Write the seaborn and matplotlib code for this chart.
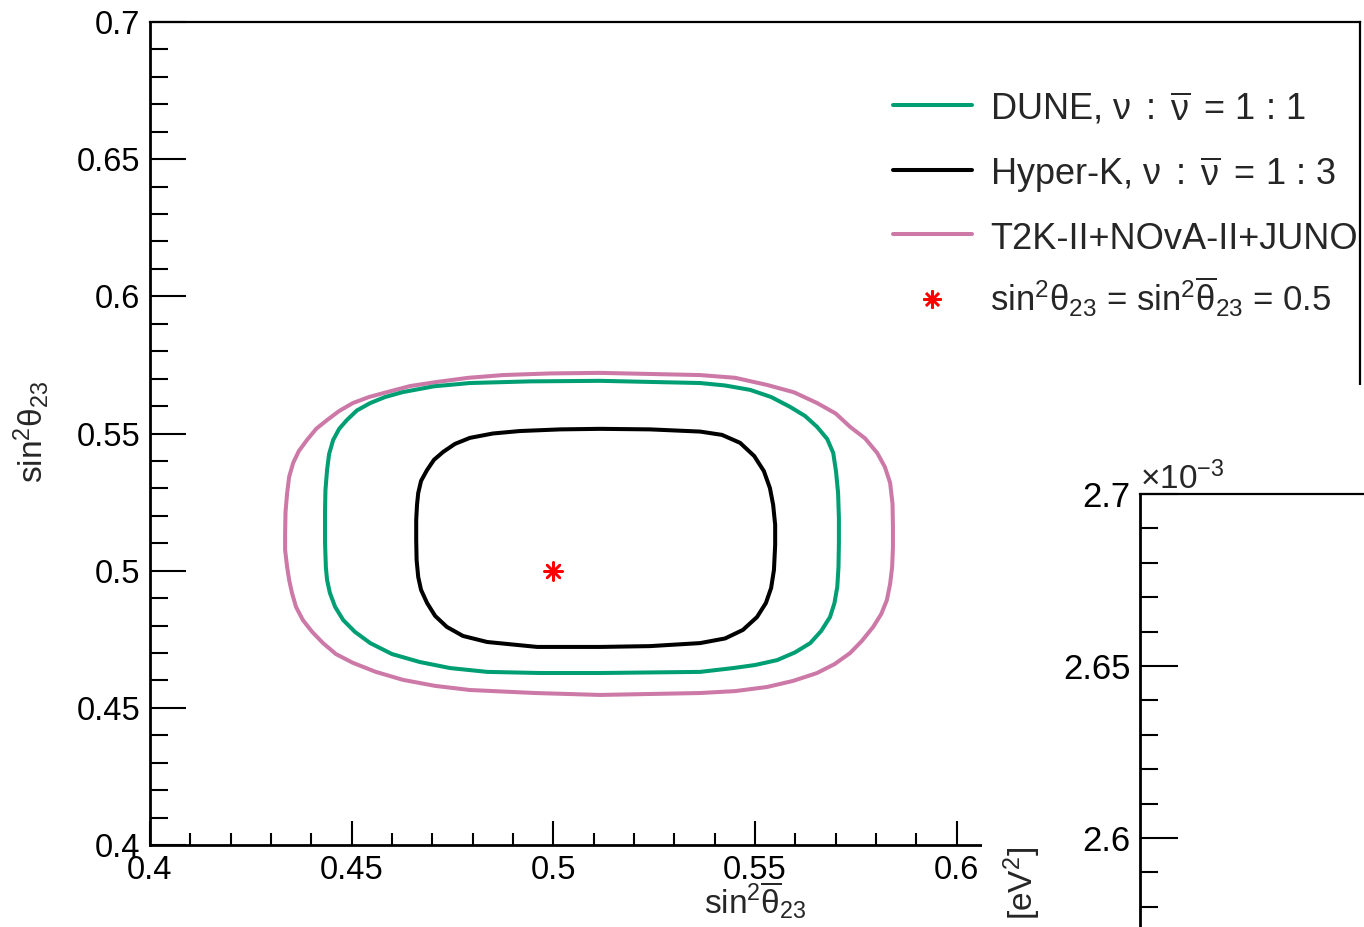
import matplotlib
matplotlib.use("Agg")
import matplotlib.pyplot as plt
from matplotlib.lines import Line2D
from matplotlib.patches import Rectangle
from matplotlib.ticker import MultipleLocator, FuncFormatter
import pandas as pd
import seaborn as sns

# 90% C.L. contours in the (sin^2 theta23-bar, sin^2 theta23) plane
t2k_x = [0.5116, 0.5364, 0.5451, 0.5530, 0.5597, 0.5654, 0.5700, 0.5736,
         0.5773, 0.5803, 0.5822, 0.5835, 0.5841, 0.5842, 0.5842, 0.5840,
         0.5835, 0.5827, 0.5813, 0.5793, 0.5765, 0.5736, 0.5698, 0.5654,
         0.5594, 0.5530, 0.5451, 0.5364, 0.5116, 0.4955, 0.4793, 0.4707,
         0.4627, 0.4560, 0.4503, 0.4461, 0.4429, 0.4402, 0.4379, 0.4362,
         0.4352, 0.4345, 0.4340, 0.4335, 0.4335, 0.4336, 0.4340, 0.4345,
         0.4355, 0.4369, 0.4389, 0.4412, 0.4439, 0.4469, 0.4503, 0.4543,
         0.4588, 0.4645, 0.4712, 0.4789, 0.4875, 0.4992]
t2k_y = [0.5721, 0.5713, 0.5703, 0.5677, 0.5650, 0.5611, 0.5573, 0.5524,
         0.5482, 0.5429, 0.5378, 0.5320, 0.5243, 0.5159, 0.5086, 0.5013,
         0.4952, 0.4893, 0.4842, 0.4795, 0.4744, 0.4700, 0.4660, 0.4627,
         0.4598, 0.4576, 0.4561, 0.4554, 0.4547, 0.4554, 0.4565, 0.4580,
         0.4602, 0.4631, 0.4664, 0.4696, 0.4736, 0.4777, 0.4820, 0.4868,
         0.4919, 0.4966, 0.5013, 0.5075, 0.5137, 0.5214, 0.5283, 0.5342,
         0.5393, 0.5436, 0.5476, 0.5517, 0.5549, 0.5582, 0.5611, 0.5633,
         0.5651, 0.5673, 0.5688, 0.5703, 0.5713, 0.5719]

dune_x = [0.5116, 0.5364, 0.5426, 0.5488, 0.5540, 0.5587, 0.5624, 0.5654,
          0.5679, 0.5694, 0.5701, 0.5706, 0.5708, 0.5708, 0.5707, 0.5704,
          0.5697, 0.5686, 0.5664, 0.5637, 0.5599, 0.5555, 0.5500, 0.5446,
          0.5364, 0.5116, 0.4967, 0.4836, 0.4744, 0.4669, 0.4600, 0.4546,
          0.4508, 0.4479, 0.4459, 0.4446, 0.4439, 0.4436, 0.4434, 0.4434,
          0.4435, 0.4439, 0.4444, 0.4454, 0.4469, 0.4488, 0.4513, 0.4546,
          0.4583, 0.4627, 0.4704, 0.4793, 0.4942]
dune_y = [0.5692, 0.5684, 0.5675, 0.5659, 0.5633, 0.5597, 0.5564, 0.5524,
          0.5480, 0.5429, 0.5360, 0.5283, 0.5192, 0.5101, 0.5013, 0.4941,
          0.4882, 0.4831, 0.4780, 0.4736, 0.4702, 0.4674, 0.4656, 0.4645,
          0.4631, 0.4627, 0.4627, 0.4631, 0.4645, 0.4667, 0.4696, 0.4736,
          0.4777, 0.4820, 0.4868, 0.4919, 0.4966, 0.5013, 0.5101, 0.5221,
          0.5294, 0.5367, 0.5425, 0.5476, 0.5517, 0.5549, 0.5584, 0.5611,
          0.5633, 0.5651, 0.5672, 0.5684, 0.5690]

hk_x = [0.5116, 0.5240, 0.5364, 0.5418, 0.5463, 0.5498, 0.5522, 0.5537,
        0.5545, 0.5550, 0.5550, 0.5547, 0.5540, 0.5527, 0.5505, 0.5470,
        0.5426, 0.5364, 0.5240, 0.5116, 0.4960, 0.4836, 0.4776, 0.4736,
        0.4707, 0.4687, 0.4672, 0.4665, 0.4661, 0.4660, 0.4660, 0.4662,
        0.4665, 0.4672, 0.4687, 0.4704, 0.4727, 0.4756, 0.4793, 0.4850,
        0.4917, 0.5017]
hk_y = [0.5517, 0.5515, 0.5507, 0.5495, 0.5466, 0.5418, 0.5363, 0.5301,
        0.5240, 0.5167, 0.5094, 0.5003, 0.4937, 0.4882, 0.4831, 0.4784,
        0.4753, 0.4736, 0.4725, 0.4722, 0.4722, 0.4740, 0.4762, 0.4795,
        0.4835, 0.4882, 0.4930, 0.4977, 0.5039, 0.5112, 0.5185, 0.5240,
        0.5283, 0.5327, 0.5367, 0.5404, 0.5433, 0.5462, 0.5484, 0.5500,
        0.5509, 0.5515]

# true point
true_x = [0.5]
true_y = [0.5]

labels = [r"DUNE, $\nu\,$ : $\,\overline{\nu}\,$ = 1 : 1",
          r"Hyper-K, $\nu\,$ : $\,\overline{\nu}\,$ = 1 : 3",
          "T2K-II+NOvA-II+JUNO",
          r"sin$^{2}\theta_{23}$ = sin$^{2}\overline{\theta}_{23}$ = 0.5"]
colors = {"DUNE": "#009e73", "Hyper-K": "#000000", "T2K": "#cc79a7"}

dm_ticks = [2.6e-3, 2.65e-3, 2.7e-3]

W, H, DPI = 1364, 927, 100

sns.set_style("ticks")
plt.rcParams["font.family"] = ["Liberation Sans", "DejaVu Sans"]
plt.rcParams["mathtext.fontset"] = "custom"
plt.rcParams["mathtext.rm"] = "Liberation Sans"
plt.rcParams["mathtext.it"] = "Liberation Sans"
plt.rcParams["mathtext.sf"] = "Liberation Sans"
plt.rcParams["mathtext.bf"] = "Liberation Sans:bold"
plt.rcParams["axes.edgecolor"] = "black"
plt.rcParams["xtick.color"] = "black"
plt.rcParams["ytick.color"] = "black"


def fx(px):
    return px / W


def fy(py):
    return 1 - py / H


fig = plt.figure(figsize=(W / DPI, H / DPI), dpi=DPI)
fig.patch.set_facecolor("white")

ax = fig.add_axes([fx(150), fy(845), fx(1360) - fx(150), fy(22) - fy(845)])
ax.set_facecolor("white")

frames = []
for name, xs, ys in [("T2K", t2k_x, t2k_y), ("DUNE", dune_x, dune_y),
                     ("Hyper-K", hk_x, hk_y)]:
    # close each contour by returning to its first point
    xs = list(xs) + [xs[0]]
    ys = list(ys) + [ys[0]]
    frames.append(pd.DataFrame({"x": xs, "y": ys, "exp": name}))
df = pd.concat(frames, ignore_index=True)

sns.lineplot(data=df, x="x", y="y", hue="exp", palette=colors, sort=False,
             estimator=None, linewidth=2.9, legend=False, ax=ax,
             solid_joinstyle="round", solid_capstyle="butt")
sns.scatterplot(x=true_x, y=true_y, marker=(8, 2, 0), s=170, color="red",
                linewidth=1.8, ax=ax, zorder=5)

ax.set_xlim(0.4, 0.7)
ax.set_ylim(0.4, 0.7)
ax.set_xlabel("")
ax.set_ylabel("")
ax.xaxis.set_major_locator(MultipleLocator(0.05))
ax.xaxis.set_minor_locator(MultipleLocator(0.01))
ax.yaxis.set_major_locator(MultipleLocator(0.05))
ax.yaxis.set_minor_locator(MultipleLocator(0.01))
fmt = FuncFormatter(lambda v, _: f"{v:g}")
ax.xaxis.set_major_formatter(fmt)
ax.yaxis.set_major_formatter(fmt)
ax.tick_params(axis="both", which="both", direction="in", top=False,
               right=False, width=1.5, labelsize=23.5)
ax.tick_params(axis="x", which="major", length=17, pad=7)
ax.tick_params(axis="x", which="minor", length=8.5)
ax.tick_params(axis="y", which="major", length=26, pad=7)
ax.tick_params(axis="y", which="minor", length=13)
for side in ["left", "bottom"]:
    ax.spines[side].set_linewidth(2.0)
for side in ["top", "right"]:
    ax.spines[side].set_visible(True)
    ax.spines[side].set_linewidth(1.6)

fig.text(fx(755), fy(914), r"sin$^{2}\overline{\theta}_{23}$", fontsize=24,
         ha="center", va="baseline")
fig.text(fx(43), fy(432), r"sin$^{2}\theta_{23}$", fontsize=24,
         rotation=90, rotation_mode="anchor", ha="center", va="baseline")

# legend entries
line_colors = [colors["DUNE"], colors["Hyper-K"], colors["T2K"]]
line_y = [105, 170, 234]
base_y = [120, 185, 249, 311]
sizes = [26, 26, 26, 25]
for c, yy in zip(line_colors, line_y):
    fig.add_artist(Line2D([fx(893), fx(972)], [fy(yy), fy(yy)],
                          transform=fig.transFigure, color=c, lw=2.9))
fig.add_artist(Line2D([fx(932)], [fy(299)], transform=fig.transFigure,
                      marker=(8, 2, 0), markersize=13, mew=1.8, color="red",
                      ls="none"))
for lab, yy, fs in zip(labels, base_y, sizes):
    fig.text(fx(990), fy(yy), lab, fontsize=fs, ha="left", va="baseline")

# lower-right pad covering the main frame
fig.add_artist(Rectangle((fx(982), 0), 1.0, fy(385), transform=fig.transFigure,
                         facecolor="white", edgecolor="none", zorder=1))

top2, per_tick = 494, 172.0
bottom_px = top2 + per_tick * 4
ax2 = fig.add_axes([fx(1140), fy(bottom_px), fx(1800) - fx(1140),
                    fy(top2) - fy(bottom_px)], zorder=2)
ax2.set_facecolor("white")
ax2.set_ylim(2.5e-3, 2.7e-3)
ax2.set_xlim(0, 1)
ax2.set_yticks(dm_ticks)
ax2.yaxis.set_minor_locator(MultipleLocator(1e-5))
ax2.yaxis.set_major_formatter(FuncFormatter(lambda v, _: f"{v * 1e3:g}"))
ax2.set_xticks([])
ax2.tick_params(axis="y", which="both", direction="in", width=1.5,
                labelsize=25, pad=7)
ax2.tick_params(axis="y", which="major", length=27)
ax2.tick_params(axis="y", which="minor", length=13)
ax2.spines["left"].set_linewidth(2.0)
ax2.spines["top"].set_linewidth(1.6)

fig.text(fx(1140), fy(489), r"$\times$10$^{-3}$", fontsize=24,
         ha="left", va="baseline", zorder=4)
fig.text(fx(1033), fy(847), r"[eV$^{2}$]", fontsize=24, rotation=90,
         rotation_mode="anchor", ha="right", va="baseline", zorder=4)

fig.savefig("out.png", dpi=DPI)
